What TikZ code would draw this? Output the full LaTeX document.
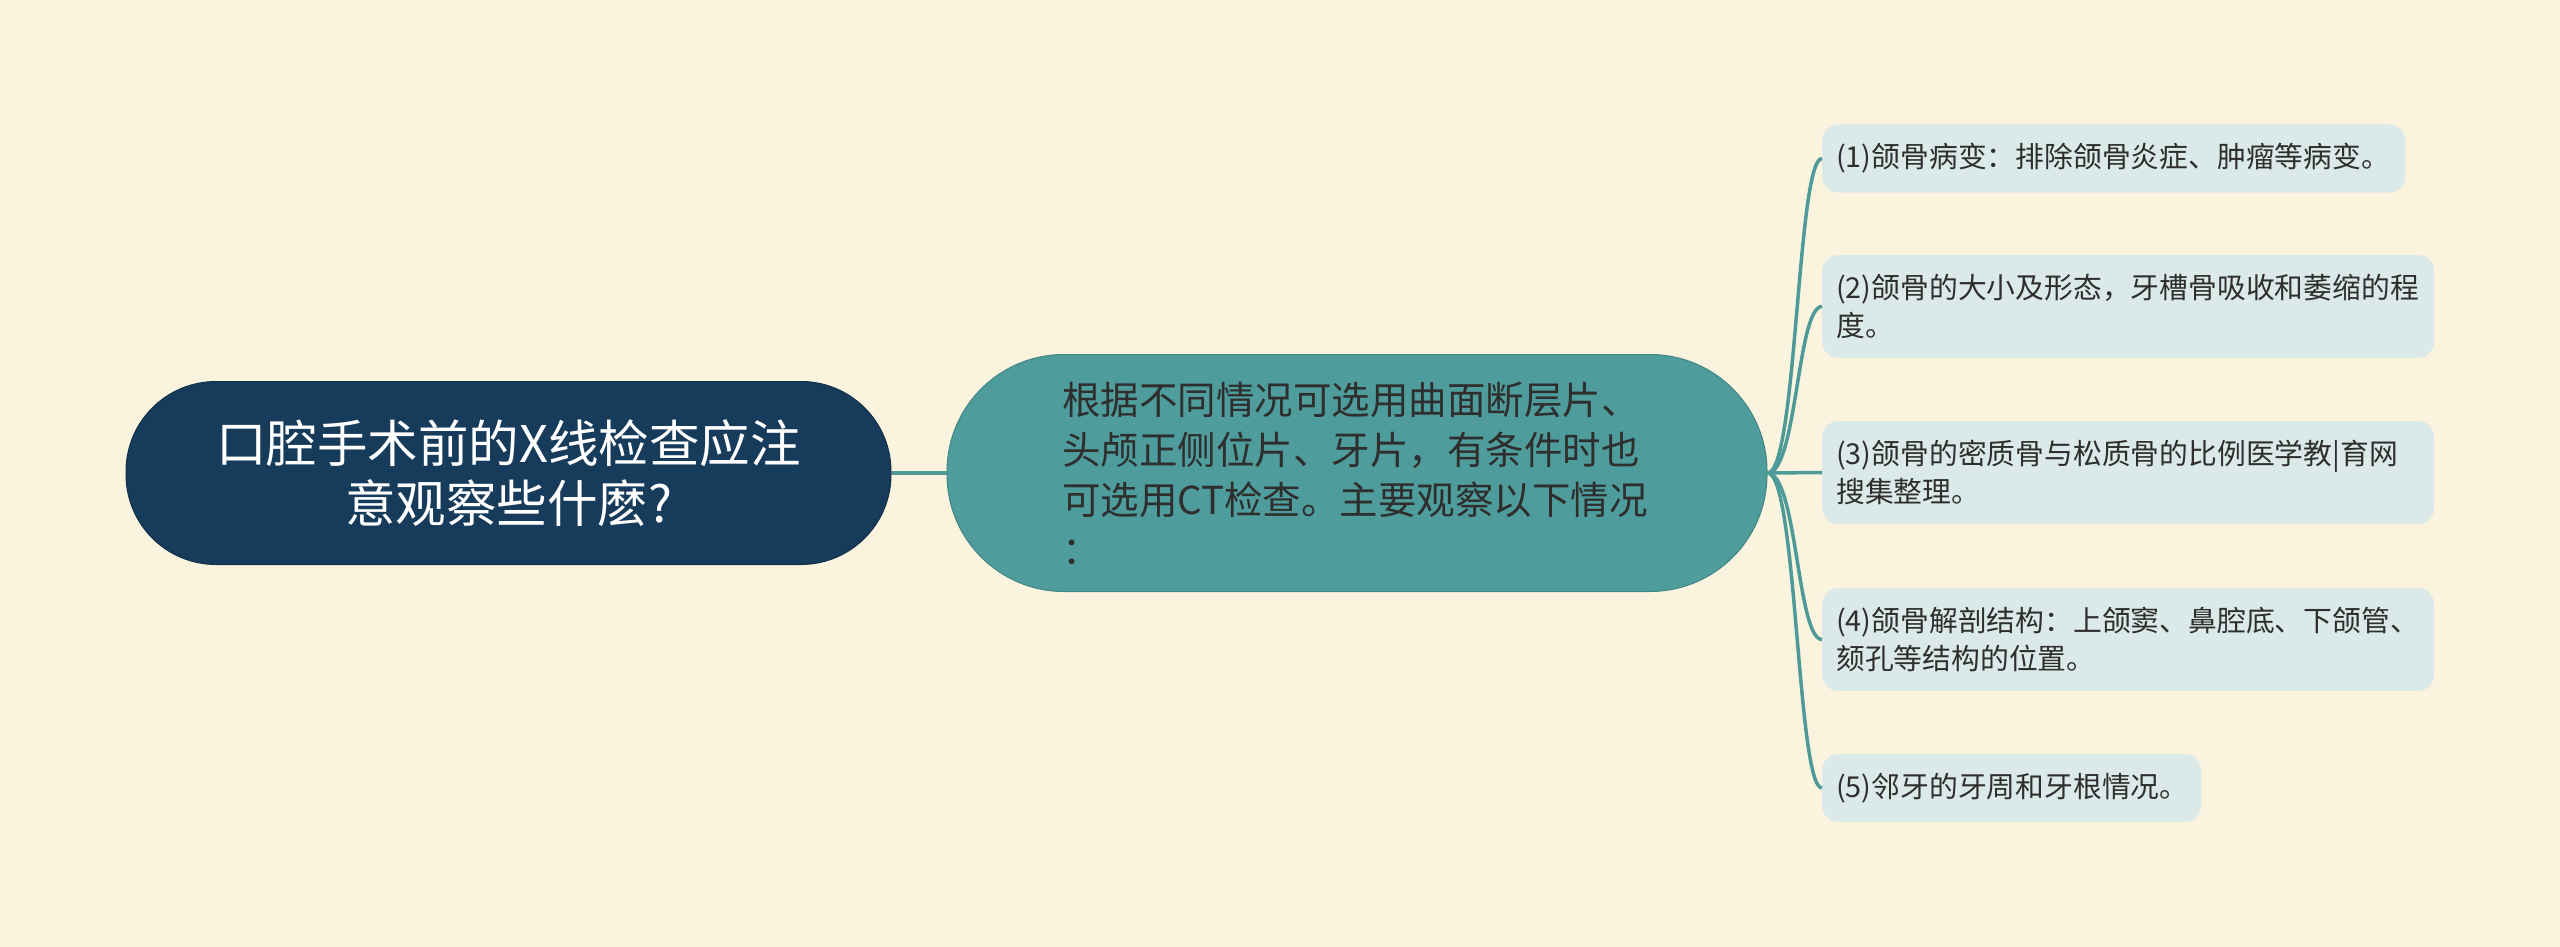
\documentclass[tikz,border=0pt]{standalone}
\usepackage{fontspec}
\newfontfamily\cjk{Noto Sans CJK SC}
\definecolor{bg}{HTML}{FAF4DF}
\definecolor{rootc}{HTML}{173C5B}
\definecolor{midc}{HTML}{4E9C9B}
\definecolor{leafc}{HTML}{DBEAE8}
\definecolor{linec}{HTML}{4E9A98}
\definecolor{txt}{HTML}{2E2E2E}
\begin{document}
\begin{tikzpicture}[x=1pt,y=-1pt,
  rootbox/.style={draw=rootc!80!black, line width=1pt, fill=rootc, rounded corners=90pt,
    minimum width=765pt, minimum height=183pt, text=white,
    font=\cjk\fontsize{50.5pt}{60pt}\selectfont, align=center, inner sep=0pt},
  midbox/.style={draw=midc!85!black, line width=1pt, fill=midc, rounded corners=117pt,
    minimum width=820pt, minimum height=237pt, text=txt,
    font=\cjk\fontsize{38.5pt}{50pt}\selectfont, align=left, text width=590pt, inner sep=0pt},
  leafbox/.style={fill=leafc, rounded corners=16pt, text=txt,
    font=\cjk\fontsize{28.8pt}{38pt}\selectfont, align=left, inner xsep=14pt, inner ysep=19pt, anchor=west},
  conn/.style={draw=linec, line width=3.5pt}]
\fill[bg] (0,0) rectangle (2560,947);
\useasboundingbox (0,0) rectangle (2560,947);

\node[rootbox] (root) at (508.5,473) {口腔手术前的X线检查应注\\意观察些什麽?};
\node[midbox] (mid) at (1357,473) {根据不同情况可选用曲面断层片、\\头颅正侧位片、牙片，有条件时也\\可选用CT检查。主要观察以下情况\\：};

\node[leafbox, text width=555pt] (l1) at (1822,158.5) {(1)颌骨病变：排除颌骨炎症、肿瘤等病变。};
\node[leafbox, text width=584pt] (l2) at (1822,306.5) {(2)颌骨的大小及形态，牙槽骨吸收和萎缩的程\\度。};
\node[leafbox, text width=584pt] (l3) at (1822,472.5) {(3)颌骨的密质骨与松质骨的比例医学教|育网\\搜集整理。};
\node[leafbox, text width=584pt] (l4) at (1822,639.5) {(4)颌骨解剖结构：上颌窦、鼻腔底、下颌管、\\颏孔等结构的位置。};
\node[leafbox, text width=351pt] (l5) at (1822,788) {(5)邻牙的牙周和牙根情况。};

\draw[conn] (root.east) -- (mid.west);
\foreach \n in {l1,l2,l3,l4,l5}{
  \draw[conn] (mid.east) .. controls (1797,473) and (1797,0|-\n.west) .. (\n.west);
}
\end{tikzpicture}
\end{document}
